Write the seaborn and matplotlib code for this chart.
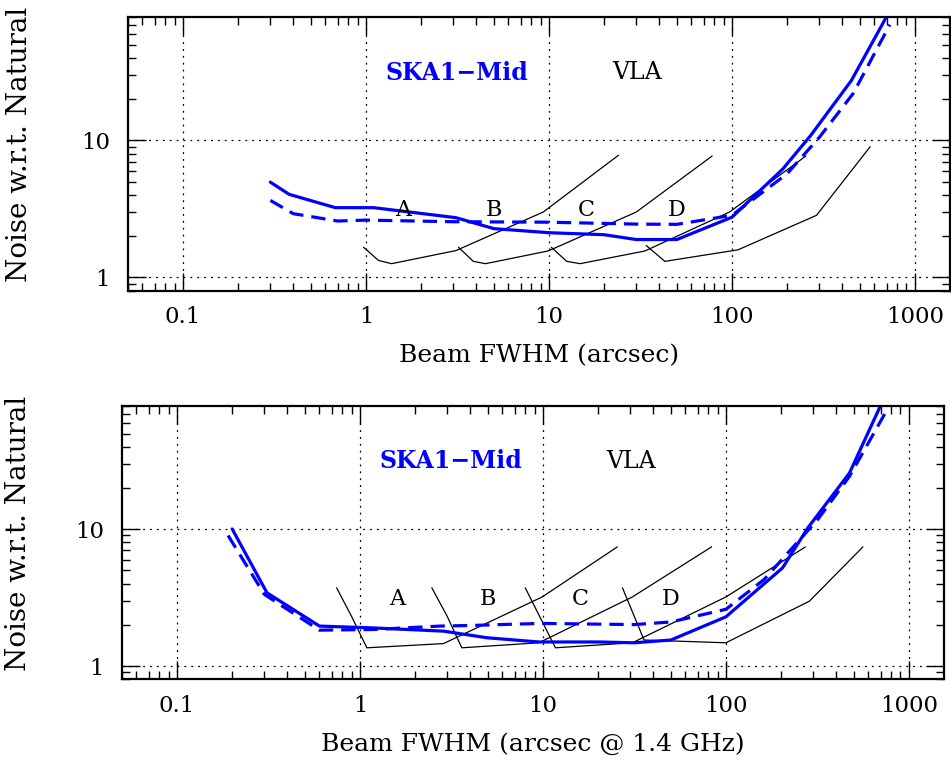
import numpy as np
import matplotlib
matplotlib.use("Agg")
import matplotlib.pyplot as plt
import seaborn as sns
from matplotlib.ticker import LogLocator, NullFormatter, FixedLocator

# --- data ---
# top panel: beam FWHM (arcsec)
top_ska_solid_x = [0.3, 0.38, 0.68, 1.1, 3.1, 5.0, 10, 20, 30, 50, 100, 190, 270, 450, 700]
top_ska_solid_y = [4.96, 4.04, 3.23, 3.23, 2.73, 2.27, 2.12, 2.05, 1.89, 1.89, 2.75, 6.2, 10.9, 27.4, 80]
top_ska_dash_x = [0.3, 0.4, 0.7, 1.0, 3, 10, 30, 50, 100, 200, 300, 460, 730]
top_ska_dash_y = [3.65, 2.92, 2.58, 2.62, 2.55, 2.53, 2.45, 2.44, 2.84, 5.7, 10.5, 22, 70]

top_vla_x = {
    "A": [0.97, 1.17, 1.38, 3.1, 9.3, 24],
    "B": [3.2, 3.86, 4.5, 9.9, 30, 78],
    "C": [10.3, 12.5, 14.8, 33.5, 97, 254],
    "D": [34, 43, 108, 290, 570],
}
top_vla_y = {
    "A": [1.66, 1.33, 1.26, 1.57, 3.0, 7.8],
    "B": [1.66, 1.31, 1.26, 1.56, 3.0, 7.7],
    "C": [1.66, 1.31, 1.26, 1.56, 3.0, 7.7],
    "D": [1.71, 1.31, 1.59, 2.84, 9.0],
}

# bottom panel: beam FWHM (arcsec @ 1.4 GHz)
bot_ska_solid_x = [0.2, 0.31, 0.6, 1.18, 2.86, 4.95, 9.5, 20, 31.5, 50, 100, 204, 280, 474, 700]
bot_ska_solid_y = [10.05, 3.43, 1.96, 1.9, 1.8, 1.61, 1.5, 1.5, 1.48, 1.55, 2.29, 5.22, 10.2, 25.8, 80]
bot_ska_dash_x = [0.19, 0.30, 0.6, 1.18, 2.74, 4.0, 9.7, 31.5, 50, 100, 162, 318, 474, 770]
bot_ska_dash_y = [9.0, 3.34, 1.83, 1.85, 1.96, 1.98, 2.05, 2.01, 2.1, 2.6, 4.3, 11.8, 24.4, 77]

bot_vla_x = {
    "A": [0.745, 0.9, 1.09, 2.86, 9.9, 25.5],
    "B": [2.47, 3.0, 3.6, 9.5, 30.8, 83.5],
    "C": [8.0, 9.6, 11.7, 30.8, 100, 272],
    "D": [27.2, 35.7, 100, 286, 561],
}
bot_vla_y = {
    "A": [3.73, 2.3, 1.36, 1.46, 3.2, 7.43],
    "B": [3.73, 2.3, 1.36, 1.48, 3.2, 7.43],
    "C": [3.73, 2.3, 1.36, 1.48, 3.2, 7.43],
    "D": [3.73, 1.55, 1.48, 2.98, 7.43],
}

config_names = ["A", "B", "C", "D"]
config_label_x = [1.6, 5.0, 16, 50]
config_label_y = 3.1

x_ticks = [0.1, 1, 10, 100, 1000]
x_ticklabels = ["0.1", "1", "10", "100", "1000"]
y_ticks = [1, 10]
y_ticklabels = ["1", "10"]

BLUE = "#0000ff"

sns.set_theme(style="ticks")
plt.rcParams["font.family"] = ["DejaVu Serif"]
plt.rcParams["text.color"] = "black"
plt.rcParams["axes.labelcolor"] = "black"
plt.rcParams["xtick.color"] = "black"
plt.rcParams["ytick.color"] = "black"


def style_axes(ax, xlabel):
    ax.set_xscale("log")
    ax.set_yscale("log")
    ax.set_xlim(0.05, 1550)
    ax.set_ylim(0.8, 80)

    ax.xaxis.set_major_locator(FixedLocator(x_ticks))
    ax.set_xticklabels(x_ticklabels)
    ax.yaxis.set_major_locator(FixedLocator(y_ticks))
    ax.set_yticklabels(y_ticklabels)
    ax.xaxis.set_minor_locator(LogLocator(base=10, subs=np.arange(2, 10), numticks=100))
    ax.yaxis.set_minor_locator(LogLocator(base=10, subs=np.arange(2, 10), numticks=100))
    ax.xaxis.set_minor_formatter(NullFormatter())
    ax.yaxis.set_minor_formatter(NullFormatter())

    ax.tick_params(which="both", direction="in", top=True, right=True,
                   width=1.0, colors="black", labelcolor="black")
    ax.tick_params(which="major", length=13, labelsize=16.5)
    ax.tick_params(which="minor", length=6)
    ax.tick_params(axis="x", which="major", pad=11)
    ax.tick_params(axis="y", which="major", pad=13)

    for sp in ax.spines.values():
        sp.set_linewidth(1.6)
        sp.set_color("black")
        sp.set_visible(True)

    ax.grid(True, which="major", color="black", linestyle=(0, (1.5, 4)), linewidth=0.9)
    ax.set_axisbelow(True)

    ax.set_xlabel(xlabel, fontsize=18, labelpad=12, color="black")
    ax.set_ylabel("Noise w.r.t. Natural", fontsize=20, color="black")


def draw_panel(ax, solid_x, solid_y, dash_x, dash_y, vla_x, vla_y, xlabel):
    for name in config_names:
        sns.lineplot(x=vla_x[name], y=vla_y[name], ax=ax, color="black",
                     linewidth=0.9, sort=False, estimator=None)
    sns.lineplot(x=solid_x, y=solid_y, ax=ax, color=BLUE, linewidth=2.3,
                 sort=False, estimator=None)
    sns.lineplot(x=dash_x, y=dash_y, ax=ax, color=BLUE, linewidth=2.3,
                 linestyle=(0, (4.5, 2.5)), sort=False, estimator=None)

    for name, lx in zip(config_names, config_label_x):
        ax.text(lx, config_label_y, name, ha="center", va="center",
                fontsize=16, color="black")

    ax.text(0.40, 0.796, "SKA1\u2212Mid", transform=ax.transAxes, ha="center",
            va="center", fontsize=17, fontweight="bold", color=BLUE)
    ax.text(0.62, 0.796, "VLA", transform=ax.transAxes, ha="center",
            va="center", fontsize=17, color="black")

    style_axes(ax, xlabel)


fig = plt.figure(figsize=(9.51, 7.67), dpi=100)
ax1 = fig.add_axes([0.1346, 0.6210, 0.864, 0.3572])
ax2 = fig.add_axes([0.1283, 0.1143, 0.864, 0.3568])

draw_panel(ax1, top_ska_solid_x, top_ska_solid_y, top_ska_dash_x, top_ska_dash_y,
           top_vla_x, top_vla_y, "Beam FWHM (arcsec)")
draw_panel(ax2, bot_ska_solid_x, bot_ska_solid_y, bot_ska_dash_x, bot_ska_dash_y,
           bot_vla_x, bot_vla_y, "Beam FWHM (arcsec @ 1.4 GHz)")

ax1.yaxis.set_label_coords(-0.1156, 0.535)
ax2.yaxis.set_label_coords(-0.1095, 0.535)

fig.savefig("out.png", dpi=100)
